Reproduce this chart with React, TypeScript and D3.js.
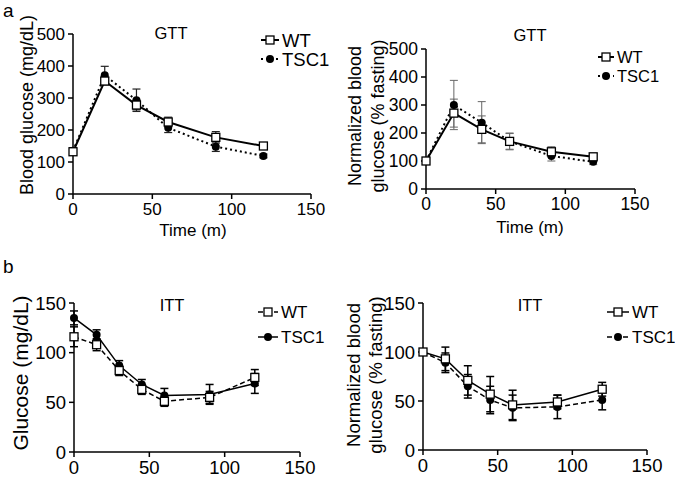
import * as d3 from "d3"

// ---- data ----
const gttTime = [0, 20, 40, 60, 90, 120]
const gttWT = [132, 353, 278, 225, 177, 150]
const gttWTErr = [10, 12, 15, 15, 18, 8]
const gttTSC1 = [135, 371, 293, 207, 148, 119]
const gttTSC1Err = [10, 28, 35, 15, 15, 6]

const gttNormWT = [100, 271, 213, 170, 133, 115]
const gttNormWTErr = [5, 50, 48, 28, 18, 10]
const gttNormTSC1 = [100, 300, 237, 170, 118, 97]
const gttNormTSC1Err = [5, 88, 75, 30, 18, 10]

const ittTime = [0, 15, 30, 45, 60, 90, 120]
const ittWT = [116, 108, 82, 63, 51, 55, 75]
const ittWTErr = [10, 6, 5, 5, 5, 6, 8]
const ittTSC1 = [135, 118, 87, 68, 57, 58, 69]
const ittTSC1Err = [7, 5, 5, 5, 7, 10, 10]

const ittNormWT = [100, 93, 71, 57, 46, 49, 62]
const ittNormWTErr = [3, 12, 15, 18, 15, 7, 7]
const ittNormTSC1 = [100, 89, 65, 51, 43, 44, 51]
const ittNormTSC1Err = [3, 10, 12, 14, 13, 12, 10]

const xTicks = [0, 50, 100, 150]
const gttYTicks = [0, 100, 200, 300, 400, 500]
const ittYTicks = [0, 50, 100, 150]
const seriesNames = ["WT", "TSC1"]

const FONT = "'Liberation Sans', Arial, Helvetica, sans-serif"

interface Series {
  name: string
  values: number[]
  err: number[]
  marker: "square" | "dot"
  dash: string
}

interface PanelProps {
  x0: number
  x1: number
  yTop: number
  yBottom: number
  yMax: number
  yTicks: number[]
  times: number[]
  series: Series[]
  title: string
  titlePos: [number, number]
  yLabel: string[]
  yLabelX: number[]
  yLabelY: number
  yLabelSize: number
  xLabel?: string
  xLabelPos?: [number, number]
  tickSize: number
  legend: { x: number; ys: number[]; size: number; lineHalf: number }
  lineWidth: number
  markerSize: number
  errColor: string
  errWidth: number
}

const Marker = ({ kind, cx, cy, size }: { kind: string; cx: number; cy: number; size: number }) =>
  kind === "square" ? (
    <rect x={cx - size / 2} y={cy - size / 2} width={size} height={size} fill="#fff" stroke="#000" strokeWidth={1.3} />
  ) : (
    <circle cx={cx} cy={cy} r={size / 2} fill="#000" />
  )

const Panel = (p: PanelProps) => {
  const x = d3.scaleLinear().domain([0, 150]).range([p.x0, p.x1])
  const y = d3.scaleLinear().domain([0, p.yMax]).range([p.yBottom, p.yTop])
  const line = d3
    .line<number>()
    .x((_d, i) => x(p.times[i]))
    .y(d => y(d))
  // draw TSC1 first so WT squares sit on top
  const order = [...p.series].reverse()
  return (
    <g fontFamily={FONT}>
      {/* axes */}
      <line x1={p.x0} x2={p.x0} y1={p.yTop} y2={p.yBottom} stroke="#000" strokeWidth={1.5} />
      <line x1={p.x0} x2={p.x1} y1={p.yBottom} y2={p.yBottom} stroke="#000" strokeWidth={1.5} />
      {p.yTicks.map(t => (
        <g key={"y" + t}>
          <line x1={p.x0 - 5} x2={p.x0} y1={y(t)} y2={y(t)} stroke="#000" strokeWidth={1.5} />
          <text x={p.x0 - 8} y={y(t)} dy="0.36em" textAnchor="end" fontSize={p.tickSize}>
            {t}
          </text>
        </g>
      ))}
      {xTicks.map(t => (
        <g key={"x" + t}>
          <line x1={x(t)} x2={x(t)} y1={p.yBottom} y2={p.yBottom + 5} stroke="#000" strokeWidth={1.5} />
          <text x={x(t)} y={p.yBottom + 8} dy="0.75em" textAnchor="middle" fontSize={p.tickSize}>
            {t}
          </text>
        </g>
      ))}
      {/* labels */}
      <text x={p.titlePos[0]} y={p.titlePos[1]} dy="0.36em" textAnchor="middle" fontSize={16.5}>
        {p.title}
      </text>
      {p.yLabel.map((l, i) => (
        <text
          key={l}
          transform={`translate(${p.yLabelX[i]},${p.yLabelY}) rotate(-90)`}
          dy="0.36em"
          textAnchor="middle"
          fontSize={p.yLabelSize}
        >
          {l}
        </text>
      ))}
      {p.xLabel && p.xLabelPos && (
        <text x={p.xLabelPos[0]} y={p.xLabelPos[1]} dy="0.36em" textAnchor="middle" fontSize={17}>
          {p.xLabel}
        </text>
      )}
      {/* error bars */}
      {order.map(s => (
        <g key={"e" + s.name} stroke={p.errColor} strokeWidth={p.errWidth}>
          {s.values.map((v, i) => (
            <g key={i}>
              <line x1={x(p.times[i])} x2={x(p.times[i])} y1={y(v - s.err[i])} y2={y(v + s.err[i])} />
              <line x1={x(p.times[i]) - 4} x2={x(p.times[i]) + 4} y1={y(v + s.err[i])} y2={y(v + s.err[i])} />
              <line x1={x(p.times[i]) - 4} x2={x(p.times[i]) + 4} y1={y(v - s.err[i])} y2={y(v - s.err[i])} />
            </g>
          ))}
        </g>
      ))}
      {/* lines */}
      {order.map(s => (
        <path
          key={"l" + s.name}
          d={line(s.values) || ""}
          fill="none"
          stroke="#000"
          strokeWidth={p.lineWidth}
          strokeDasharray={s.dash}
        />
      ))}
      {/* markers */}
      {order.map(s => (
        <g key={"m" + s.name}>
          {s.values.map((v, i) => (
            <Marker key={i} kind={s.marker} cx={x(p.times[i])} cy={y(v)} size={p.markerSize} />
          ))}
        </g>
      ))}
      {/* legend */}
      {p.series.map((s, i) => (
        <g key={"lg" + s.name}>
          <line
            x1={p.legend.x - p.legend.lineHalf}
            x2={p.legend.x + p.legend.lineHalf}
            y1={p.legend.ys[i]}
            y2={p.legend.ys[i]}
            stroke="#000"
            strokeWidth={p.lineWidth}
            strokeDasharray={s.dash}
          />
          <Marker kind={s.marker} cx={p.legend.x} cy={p.legend.ys[i]} size={p.markerSize} />
          <text
            x={p.legend.x + p.legend.lineHalf + 3}
            y={p.legend.ys[i]}
            dy="0.36em"
            fontSize={p.legend.size}
          >
            {s.name}
          </text>
        </g>
      ))}
    </g>
  )
}

const App = () => {
  return (
    <svg width={675} height={481} style={{ position: "absolute", left: 0, top: 0, background: "#fff" }}>
      <rect width={675} height={481} fill="#fff" />
      <text x={3} y={17} fontSize={19} fontFamily={FONT}>a</text>
      <text x={3} y={273} fontSize={19} fontFamily={FONT}>b</text>
      <Panel
        x0={73}
        x1={311}
        yTop={34}
        yBottom={194}
        yMax={500}
        yTicks={gttYTicks}
        times={gttTime}
        series={[
          { name: seriesNames[0], values: gttWT, err: gttWTErr, marker: "square", dash: "" },
          { name: seriesNames[1], values: gttTSC1, err: gttTSC1Err, marker: "dot", dash: "2,3" },
        ]}
        title="GTT"
        titlePos={[171, 33]}
        yLabel={["Blood glucose (mg/dL)"]}
        yLabelX={[27]}
        yLabelY={105}
        yLabelSize={18}
        xLabel="Time (m)"
        xLabelPos={[193, 230]}
        tickSize={17}
        legend={{ x: 270, ys: [40, 59], size: 18.5, lineHalf: 9 }}
        lineWidth={2}
        markerSize={8}
        errColor="#222"
        errWidth={1.2}
      />
      <Panel
        x0={426}
        x1={635}
        yTop={49}
        yBottom={189}
        yMax={500}
        yTicks={gttYTicks}
        times={gttTime}
        series={[
          { name: seriesNames[0], values: gttNormWT, err: gttNormWTErr, marker: "square", dash: "" },
          { name: seriesNames[1], values: gttNormTSC1, err: gttNormTSC1Err, marker: "dot", dash: "2,3" },
        ]}
        title="GTT"
        titlePos={[530, 35]}
        yLabel={["Normalized blood", "glucose (% fasting)"]}
        yLabelX={[355, 378]}
        yLabelY={116}
        yLabelSize={18}
        xLabel="Time (m)"
        xLabelPos={[530, 227]}
        tickSize={17.5}
        legend={{ x: 606, ys: [57, 76], size: 16.5, lineHalf: 8 }}
        lineWidth={2}
        markerSize={8}
        errColor="#666"
        errWidth={1}
      />
      <Panel
        x0={74}
        x1={300}
        yTop={303}
        yBottom={452}
        yMax={150}
        yTicks={ittYTicks}
        times={ittTime}
        series={[
          { name: seriesNames[0], values: ittWT, err: ittWTErr, marker: "square", dash: "5,3" },
          { name: seriesNames[1], values: ittTSC1, err: ittTSC1Err, marker: "dot", dash: "" },
        ]}
        title="ITT"
        titlePos={[172, 305]}
        yLabel={["Glucose (mg/dL)"]}
        yLabelX={[20]}
        yLabelY={373}
        yLabelSize={21}
        tickSize={18.5}
        legend={{ x: 268, ys: [312, 337], size: 17, lineHalf: 10 }}
        lineWidth={1.5}
        markerSize={8}
        errColor="#000"
        errWidth={1.5}
      />
      <Panel
        x0={423}
        x1={647}
        yTop={303}
        yBottom={450}
        yMax={150}
        yTicks={ittYTicks}
        times={ittTime}
        series={[
          { name: seriesNames[0], values: ittNormWT, err: ittNormWTErr, marker: "square", dash: "" },
          { name: seriesNames[1], values: ittNormTSC1, err: ittNormTSC1Err, marker: "dot", dash: "5,3" },
        ]}
        title="ITT"
        titlePos={[530, 305]}
        yLabel={["Normalized blood", "glucose (% fasting)"]}
        yLabelX={[353, 375]}
        yLabelY={375}
        yLabelSize={18.5}
        tickSize={18.5}
        legend={{ x: 618, ys: [312, 337], size: 17, lineHalf: 11 }}
        lineWidth={1.5}
        markerSize={8}
        errColor="#000"
        errWidth={1.5}
      />
    </svg>
  )
}

export default App
